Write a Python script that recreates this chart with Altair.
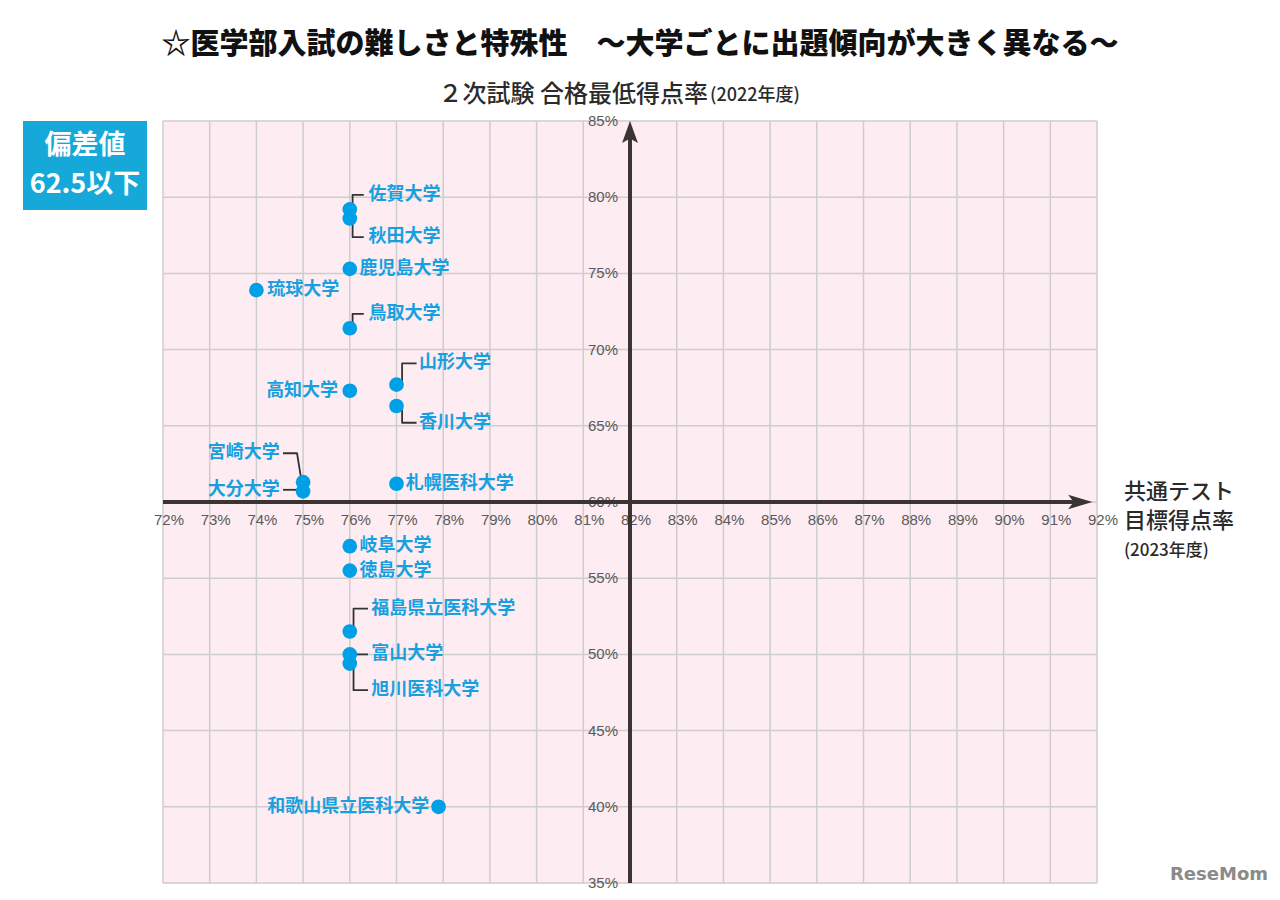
import altair as alt
import pandas as pd

# ---------------- data ----------------
names = ["佐賀大学", "秋田大学", "鹿児島大学", "琉球大学", "鳥取大学", "山形大学", "香川大学",
         "高知大学", "宮崎大学", "大分大学", "札幌医科大学", "岐阜大学", "徳島大学",
         "福島県立医科大学", "富山大学", "旭川医科大学", "和歌山県立医科大学"]
test_rate = [76, 76, 76, 74, 76, 77, 77, 76, 75, 75, 77, 76, 76, 76, 76, 76, 77.9]      # 共通テスト目標得点率
min_rate = [79.2, 78.6, 75.3, 73.9, 71.4, 67.7, 66.3, 67.3, 61.3, 60.7, 61.2, 57.1, 55.5,
            51.5, 50.0, 49.4, 40.0]                                                    # 合格最低得点率

label_x = [76.4, 76.4, 76.21, 74.23, 76.4, 77.48, 77.48, 75.75, 74.5, 74.5, 77.2, 76.21, 76.21,
           76.46, 76.46, 76.46, 77.7]
label_y = [80.15, 77.38, 75.3, 73.9, 72.35, 69.1, 65.2, 67.3, 63.2, 60.8, 61.2, 57.1, 55.5,
           53.0, 50.0, 47.65, 40.0]
label_align = ["left", "left", "left", "left", "left", "left", "left", "right", "right", "right",
               "left", "left", "left", "left", "left", "left", "right"]

leader_names = ["佐賀大学", "秋田大学", "鳥取大学", "山形大学", "香川大学", "宮崎大学", "大分大学",
                "福島県立医科大学", "富山大学", "旭川医科大学"]
leader_xs = [[76.06, 76.06, 76.3], [76.06, 76.06, 76.3], [76.06, 76.06, 76.3],
             [77.12, 77.12, 77.43], [77.12, 77.12, 77.43], [74.97, 74.87, 74.57],
             [74.95, 74.57], [76.08, 76.08, 76.39], [76.0, 76.39], [76.08, 76.08, 76.39]]
leader_ys = [[79.2, 80.15, 80.15], [78.6, 77.38, 77.38], [71.4, 72.35, 72.35],
             [67.7, 69.1, 69.1], [66.3, 65.2, 65.2], [61.3, 63.2, 63.2],
             [60.8, 60.8], [51.5, 53.0, 53.0], [50.0, 50.0], [49.4, 47.65, 47.65]]

x_ticks = list(range(72, 93))
y_ticks = list(range(35, 86, 5))
x_origin = 82
y_origin = 60

title_text = "☆医学部入試の難しさと特殊性　～大学ごとに出題傾向が大きく異なる～"
ytitle_main = "２次試験 合格最低得点率"
ytitle_sub = "(2022年度)"
xtitle_lines = ["共通テスト", "目標得点率", "(2023年度)"]
badge_lines = ["偏差値", "62.5以下"]

# ---------------- style ----------------
JP = "Noto Sans CJK JP"
NUM = "Liberation Sans"
PINK = "#fdecf2"
GRID = "#cdcdcd"
BLUE = "#00a0e6"
BLUE_TXT = "#17a0e0"
BADGE = "#17a8da"
AXIS = "#3a3432"

W, H = 934, 762
xs = alt.Scale(domain=[72, 92], nice=False, zero=False)
ys = alt.Scale(domain=[35, 85], nice=False, zero=False)


def X(f):
    return alt.X(f, type="quantitative", scale=xs, axis=None)


def Y(f):
    return alt.Y(f, type="quantitative", scale=ys, axis=None)


pts = pd.DataFrame({"name": names, "x": test_rate, "y": min_rate,
                    "lx": label_x, "ly": label_y, "align": label_align})

rows = []
for n, lxs, lys in zip(leader_names, leader_xs, leader_ys):
    for i, (a, b) in enumerate(zip(lxs, lys)):
        rows.append({"name": n, "seq": i, "x": a, "y": b})
leaders = pd.DataFrame(rows)

xt = pd.DataFrame({"v": x_ticks, "lab": [f"{v}%" for v in x_ticks]})
yt = pd.DataFrame({"v": y_ticks, "lab": [f"{v}%" for v in y_ticks], "ax": x_origin})

one = pd.DataFrame({"k": [0]})

grid_v = alt.Chart(xt).mark_rule(color=GRID, strokeWidth=1.5).encode(x=X("v"))
grid_h = alt.Chart(yt).mark_rule(color=GRID, strokeWidth=1.5).encode(y=Y("v"))

xtick_lab = alt.Chart(xt).mark_text(font=NUM, fontSize=15, color="#5a5a5a", dx=6,
                                    baseline="middle").encode(
    x=X("v"), y=alt.value(399), text="lab:N")
ytick_lab = alt.Chart(yt).mark_text(font=NUM, fontSize=15, color="#5a5a5a", dx=-12,
                                    align="right", baseline="middle").encode(
    x=X("ax"), y=Y("v"), text="lab:N")

xaxis_df = pd.DataFrame({"x1": [x_ticks[0]], "x2": [91.65], "y": [y_origin]})
yaxis_df = pd.DataFrame({"x": [x_origin], "y1": [y_ticks[0]], "y2": [84.2]})
x_axis = alt.Chart(xaxis_df).mark_rule(color=AXIS, strokeWidth=4).encode(
    x=X("x1"), x2="x2", y=Y("y"))
y_axis = alt.Chart(yaxis_df).mark_rule(color=AXIS, strokeWidth=4).encode(
    x=X("x"), y=Y("y1"), y2="y2")

x_arrow = alt.Chart(pd.DataFrame({"x": [91.9], "y": [y_origin]})).mark_point(
    shape="M0,0L-2.2,-0.66L-1.7,0L-2.2,0.66Z", size=484, filled=True, color=AXIS,
    opacity=1).encode(x=X("x"), y=Y("y"))
y_arrow = alt.Chart(pd.DataFrame({"x": [x_origin], "y": [85]})).mark_point(
    shape="M0,0L-0.72,2L0,1.6L0.72,2Z", size=484, filled=True, color=AXIS,
    opacity=1).encode(x=X("x"), y=Y("y"))

leader_lines = alt.Chart(leaders).mark_line(color="#333", strokeWidth=1.8,
                                            strokeJoin="round").encode(
    x=X("x"), y=Y("y"), detail="name:N", order="seq:Q")

dots = alt.Chart(pts).mark_circle(size=215, color=BLUE, opacity=1).encode(
    x=X("x"), y=Y("y"))

lab_left = alt.Chart(pts).transform_filter("datum.align == 'left'").mark_text(
    font=JP, fontSize=18, fontWeight="bold", color=BLUE_TXT, align="left",
    baseline="middle").encode(x=X("lx"), y=Y("ly"), text="name:N")
lab_right = alt.Chart(pts).transform_filter("datum.align == 'right'").mark_text(
    font=JP, fontSize=18, fontWeight="bold", color=BLUE_TXT, align="right",
    baseline="middle").encode(x=X("lx"), y=Y("ly"), text="name:N")

title = alt.Chart(one).mark_text(text=title_text, font=JP, fontSize=29, fontWeight=900,
                                 color="#111", align="center", baseline="middle").encode(
    x=alt.value(477), y=alt.value(-76))
yt_main = alt.Chart(one).mark_text(text=ytitle_main, font=JP, fontSize=24, fontWeight=500,
                                   color="#2a2a2a", align="right", baseline="middle").encode(
    x=alt.value(545), y=alt.value(-26))
yt_sub = alt.Chart(one).mark_text(text=ytitle_sub, font=JP, fontSize=18, fontWeight=500,
                                  color="#2a2a2a", align="left", baseline="middle").encode(
    x=alt.value(547), y=alt.value(-25))

xt_layers = []
for txt, yy, fs in zip(xtitle_lines, [371, 400, 430], [22, 22, 17]):
    xt_layers.append(alt.Chart(one).mark_text(text=txt, font=JP, fontSize=fs, fontWeight=500,
                                              color="#2a2a2a", align="left",
                                              baseline="middle").encode(
        x=alt.value(961), y=alt.value(yy)))

badge = alt.Chart(one).mark_rect(color=BADGE).encode(
    x=alt.value(-140), x2=alt.value(-16), y=alt.value(0), y2=alt.value(89))
badge_t1 = alt.Chart(one).mark_text(text=badge_lines[0], font=JP, fontSize=27, fontWeight="bold",
                                    color="white", align="center", baseline="middle").encode(
    x=alt.value(-78), y=alt.value(25))
badge_t2 = alt.Chart(one).mark_text(text=badge_lines[1], font=JP, fontSize=27, fontWeight="bold",
                                    color="white", align="center", baseline="middle").encode(
    x=alt.value(-78), y=alt.value(64))

logo = alt.Chart(one).mark_text(text="ReseMom", font="DejaVu Sans", fontSize=18,
                                fontWeight="bold", color="#8a8a8a", align="left",
                                baseline="middle").encode(x=alt.value(1007), y=alt.value(754))

chart = alt.layer(
    grid_v, grid_h, xtick_lab, ytick_lab, x_axis, y_axis, x_arrow, y_arrow,
    leader_lines, dots, lab_left, lab_right,
    title, yt_main, yt_sub, *xt_layers, badge, badge_t1, badge_t2, logo
).properties(
    width=W, height=H,
    autosize=alt.AutoSizeParams(type="none"),
    padding={"left": 155, "top": 113, "right": 170, "bottom": 8},
    background="white",
).configure_view(fill=PINK, stroke="transparent")

chart.save("out.html", embed_options={"renderer": "svg", "actions": False})
